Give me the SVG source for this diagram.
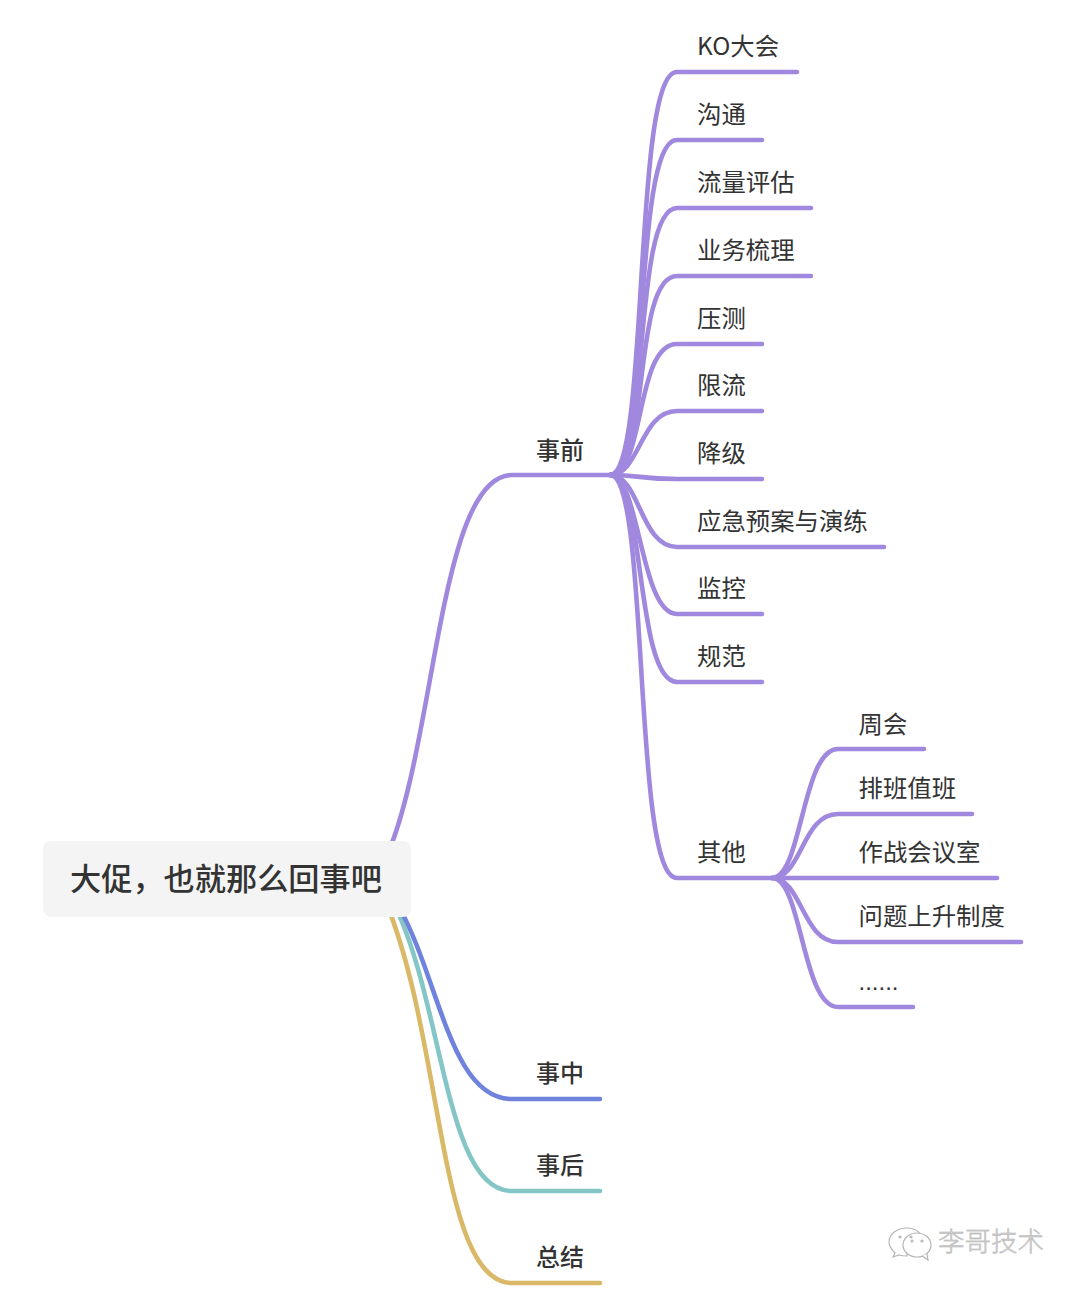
<svg xmlns="http://www.w3.org/2000/svg" width="1080" height="1290" viewBox="0 0 1080 1290">
<style>
text{font-family:"Noto Sans CJK SC","Liberation Sans",sans-serif;fill:#333}
.l{font-size:24.4px}
.b{font-size:24px;font-weight:500}
.r{font-size:31.2px;font-weight:500}
.c{fill:none;stroke-width:4.6;stroke-linecap:round}
.p{stroke:#9f88de}
</style>
<rect width="1080" height="1290" fill="#fff"/>
<g id="connectors">
<g class="c p">
<path d="M385 860C436 750 438 475 512 475H610"/>
<path d="M610 475C650 475 632 72 677 72H797"/>
<path d="M610 475C650 475 632 140 677 140H762"/>
<path d="M610 475C650 475 632 208 677 208H811"/>
<path d="M610 475C650 475 632 276 677 276H811"/>
<path d="M610 475C645 475 635 344 677 344H762"/>
<path d="M610 475C640 475 640 411 677 411H762"/>
<path d="M610 475C640 475 640 479 677 479H762"/>
<path d="M610 475C640 475 640 547 677 547H884"/>
<path d="M610 475C640 475 640 614 677 614H762"/>
<path d="M610 475C645 475 635 682 677 682H762"/>
<path d="M610 475C650 475 632 878 677 878H772"/>
<path d="M772 878C802 878 802 749 838 749H924"/>
<path d="M772 878C802 878 802 814 838 814H972"/>
<path d="M772 878H997"/>
<path d="M772 878C802 878 802 942 838 942H1021"/>
<path d="M772 878C802 878 802 1007 838 1007H913"/>
</g>
<path class="c" stroke="#d9b968" d="M385 900C444 1040 438 1283 512 1283H600"/>
<path class="c" stroke="#84c5c6" d="M392 900C444 1000 444 1191 512 1191H600"/>
<path class="c" stroke="#6f82dc" d="M398 905C440 980 450 1099 512 1099H600"/>
</g>
<g id="root"><rect x="43" y="841" width="368" height="76" rx="8" fill="#f4f4f4"/><text class="r" x="70" y="890">大促，也就那么回事吧</text></g>
<g id="n1"><text class="b" x="536" y="459">事前</text></g>
<g id="n2"><text class="b" x="536" y="1082">事中</text></g>
<g id="n3"><text class="b" x="536" y="1174">事后</text></g>
<g id="n4"><text class="b" x="536" y="1266">总结</text></g>
<g id="a1"><text class="l" x="697" y="55">KO大会</text></g>
<g id="a2"><text class="l" x="697" y="123">沟通</text></g>
<g id="a3"><text class="l" x="697" y="191">流量评估</text></g>
<g id="a4"><text class="l" x="697" y="259">业务梳理</text></g>
<g id="a5"><text class="l" x="697" y="327">压测</text></g>
<g id="a6"><text class="l" x="697" y="394">限流</text></g>
<g id="a7"><text class="l" x="697" y="462">降级</text></g>
<g id="a8"><text class="l" x="697" y="530">应急预案与演练</text></g>
<g id="a9"><text class="l" x="697" y="597">监控</text></g>
<g id="a10"><text class="l" x="697" y="665">规范</text></g>
<g id="a11"><text class="l" x="697" y="861">其他</text></g>
<g id="b1"><text class="l" x="858.500" y="733">周会</text></g>
<g id="b2"><text class="l" x="858.500" y="797">排班值班</text></g>
<g id="b3"><text class="l" x="858.500" y="861">作战会议室</text></g>
<g id="b4"><text class="l" x="858.500" y="925">问题上升制度</text></g>
<g id="b5"><text class="l" x="858.500" y="990" style="font-family:'Liberation Sans',sans-serif;font-size:24px">......</text></g>
<g id="watermark" fill="#fff" stroke="#b5b5b5" stroke-width="1.2">
<path d="M907 1228c-10 0-18 6-18 14 0 5 3 8 6 11l-2 4 6-2c3 1 5 1 8 1-1-7 6-14 17-15-1-7-8-13-17-13z"/>
<ellipse cx="917" cy="1245" rx="14" ry="12"/>
<path d="M922 1256l6 4-1-6"/>
<circle cx="900" cy="1237" r="1"/><circle cx="911" cy="1237" r="1"/><circle cx="912" cy="1241" r="1"/><circle cx="922" cy="1241" r="1"/>
<text x="938" y="1251" style="font-size:26.5px;font-weight:300;fill:#d2d2d2;stroke:#aaa;stroke-width:.4">李哥技术</text>
</g>
</svg>
